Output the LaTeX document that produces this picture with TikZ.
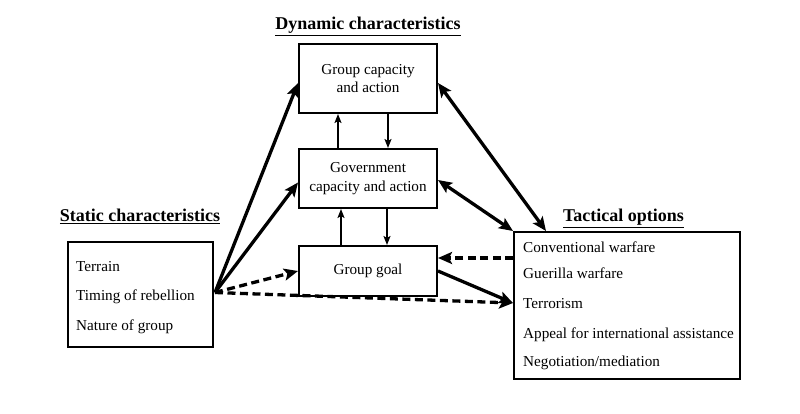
\documentclass[tikz,border=0pt]{standalone}
\usepackage{fontspec}
\setmainfont{Liberation Serif}
\usetikzlibrary{arrows.meta,calc}
\begin{document}
\begin{tikzpicture}[x=1pt,y=-1pt,
  box/.style={draw, line width=2pt, inner sep=0pt, align=center,
    font=\fontsize{15.2}{18.5}\selectfont},
  item/.style={anchor=base west, inner sep=0pt, font=\fontsize{15.2}{18}\selectfont},
  title/.style={anchor=base, inner sep=0pt, font=\fontsize{18}{20}\selectfont\bfseries},
  big/.style={line width=3.3pt, -{Stealth[length=14pt,width=12pt,inset=3pt]}},
  bigboth/.style={line width=3.3pt, {Stealth[length=14pt,width=12pt,inset=3pt]}-{Stealth[length=14pt,width=12pt,inset=3pt]}},
  bigdash/.style={big, dash pattern=on 8pt off 4.5pt},
  small/.style={line width=1.6pt, -{Stealth[length=9pt,width=7pt,inset=2pt]}}
]
\useasboundingbox (0,0) rectangle (800,414);

% boxes
\node[box, minimum width=138pt, minimum height=69pt] (gc) at (368,78.5) {Group capacity\\and action};
\node[box, minimum width=138pt, minimum height=59pt] (gov) at (368,178.5) {Government\\capacity and action};
\node[box, minimum width=138pt, minimum height=50pt] (goal) at (368,271) {Group goal};
\node[box, minimum width=145pt, minimum height=105pt] (static) at (140.5,294.5) {};
\node[box, minimum width=226pt, minimum height=147pt] (tact) at (627,305.5) {};

% titles
\node[title] (tdyn) at (368,30) {\underline{Dynamic characteristics}};
\node[title] (tstat) at (140,222) {\underline{Static characteristics}};
\node[title] (ttac) at (623.5,222) {\underline{Tactical options}};

% items
\node[item] (s1) at (76,271) {Terrain};
\node[item] (s2) at (76,300) {Timing of rebellion};
\node[item] (s3) at (76,330) {Nature of group};

\node[item] (t1) at (523,252) {Conventional warfare};
\node[item] (t2) at (523,278) {Guerilla warfare};
\node[item] (t3) at (523,308) {Terrorism};
\node[item] (t4) at (523,338) {Appeal for international assistance};
\node[item] (t5) at (523,366) {Negotiation/mediation};

% connectors
\coordinate (src) at ($(static.east)+(1,-2)$);
\draw[big] (src) -- ($(gc.west)+(0,4.5)$);
\draw[big] (src) -- ($(gov.west)+(0,4)$);
\draw[bigdash] (src) -- (goal.west);
\draw[bigdash] (src) -- ($(tact.west)+(0,-2.5)$);
\draw[big] (goal.east) -- ($(tact.west)+(0,-2.5)$);
\draw[bigdash] ($(tact.west)+(0,-47.5)$) -- ($(goal.east)+(0,-13)$);
\draw[bigboth] ($(gov.east)+(0,1.5)$) -- (tact.north west);
\draw[bigboth] ($(gc.east)+(0,4.5)$) -- ($(tact.north west)+(33,0)$);

\draw[small] ($(gov.north)+(-30,0)$) -- ($(gc.south)+(-30,0)$);
\draw[small] ($(gc.south)+(20,0)$) -- ($(gov.north)+(20,0)$);
\draw[small] ($(goal.north)+(-27,0)$) -- ($(gov.south)+(-27,0)$);
\draw[small] ($(gov.south)+(19,0)$) -- ($(goal.north)+(19,0)$);
\end{tikzpicture}
\end{document}
